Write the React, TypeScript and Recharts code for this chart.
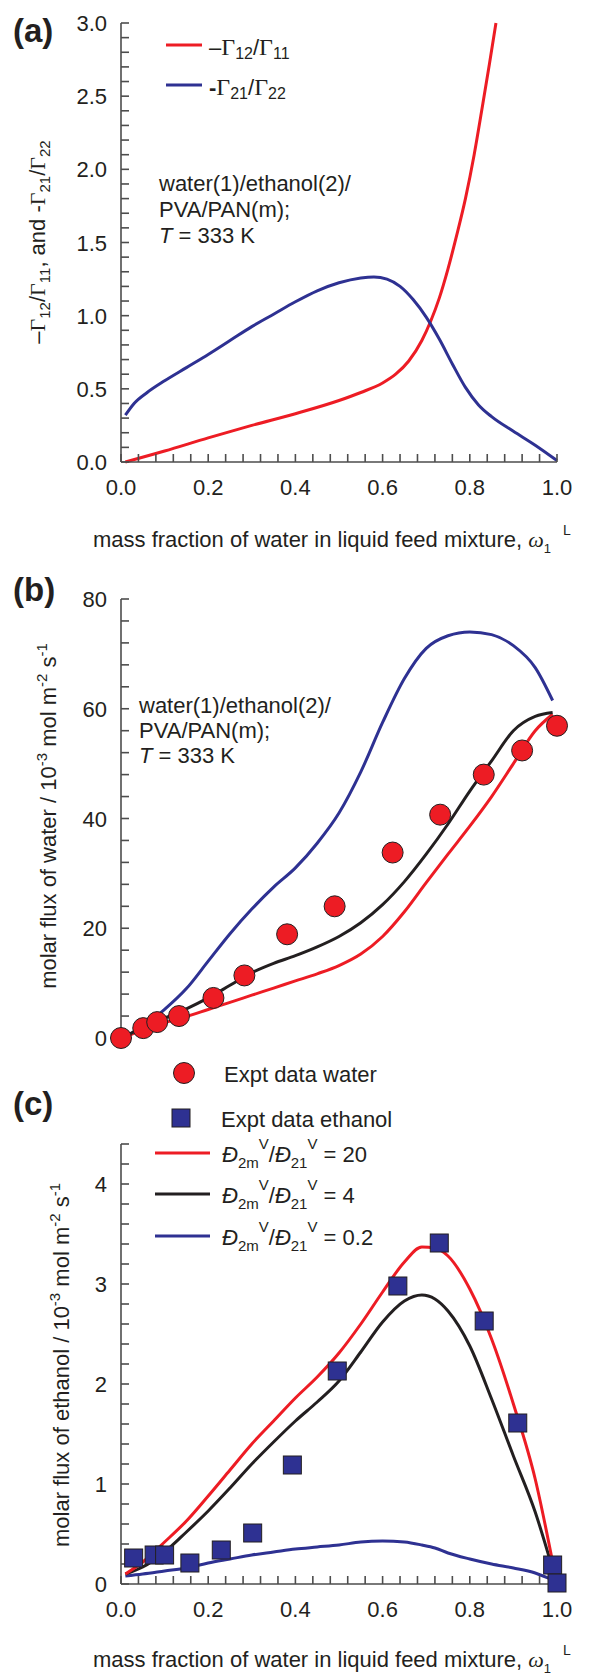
import React from "react";
import { ComposedChart, Line, Scatter, XAxis, YAxis } from "recharts";

const SANS = '"Liberation Sans", Arial, Helvetica, sans-serif';
const SERIF = '"Liberation Serif", "Times New Roman", serif';
const RED = "#ed1c24";
const BLUE = "#2e3192";
const BLACK = "#231f20";
const AXIS = "#4d4d4d";

// (a) -Γ12/Γ11 and -Γ21/Γ22 vs mass fraction of water
const A_RED_X = [0.01, 0.1, 0.2, 0.3, 0.4, 0.5, 0.55, 0.6, 0.63, 0.66, 0.69, 0.71, 0.73, 0.75, 0.77, 0.79, 0.81, 0.83, 0.845, 0.86];
const A_RED_Y = [0, 0.075, 0.165, 0.25, 0.33, 0.42, 0.475, 0.54, 0.6, 0.69, 0.83, 0.96, 1.12, 1.32, 1.55, 1.8, 2.1, 2.45, 2.72, 3.0];
const A_BLUE_X = [0.01, 0.03, 0.06, 0.1, 0.15, 0.2, 0.25, 0.3, 0.35, 0.4, 0.45, 0.5, 0.55, 0.58, 0.61, 0.64, 0.67, 0.7, 0.73, 0.76, 0.79, 0.82, 0.85, 0.9, 0.95, 1.0];
const A_BLUE_Y = [0.32, 0.4, 0.475, 0.555, 0.645, 0.735, 0.83, 0.925, 1.01, 1.095, 1.17, 1.225, 1.258, 1.265, 1.25, 1.2, 1.11, 0.99, 0.84, 0.67, 0.51, 0.39, 0.31, 0.21, 0.115, 0.01];

// (b) water flux, model curves + experiments
const B_X = [0.01, 0.05, 0.1, 0.15, 0.2, 0.25, 0.3, 0.35, 0.4, 0.45, 0.5, 0.55, 0.6, 0.65, 0.7, 0.75, 0.8, 0.85, 0.9, 0.95, 0.99];
const B_RED = [0.2, 1.5, 2.8, 3.9, 5.2, 6.5, 7.8, 9.1, 10.4, 11.7, 13.2, 15.3, 18.5, 23, 28.3, 33.5, 38.6, 44, 50, 56, 59];
const B_BLACK = [0.3, 2, 3.6, 5.3, 7.3, 9.6, 11.9, 13.6, 15, 16.6, 18.5, 21, 24.3, 28.5, 33.5, 39, 45, 50.5, 56, 58.6, 59.3];
const B_BLUE = [0.3, 2, 5.2, 9, 14, 19, 23.5, 27.5, 31, 35.5, 41, 48.5, 57.5, 65.5, 71, 73.3, 74, 73.5, 71.5, 67.5, 61.5];
const WATER_X = [0, 0.051, 0.083, 0.133, 0.212, 0.283, 0.381, 0.49, 0.623, 0.732, 0.832, 0.92, 1.0];
const WATER_Y = [0, 1.8, 2.9, 4.0, 7.3, 11.4, 18.9, 24.0, 33.8, 40.7, 48.0, 52.4, 56.9];

// (c) ethanol flux
const C_X = [0.01, 0.05, 0.1, 0.15, 0.2, 0.25, 0.3, 0.35, 0.4, 0.45, 0.5, 0.55, 0.6, 0.65, 0.69, 0.72, 0.75, 0.8, 0.85, 0.9, 0.95, 0.99];
const C_RED = [0.1, 0.22, 0.42, 0.63, 0.88, 1.14, 1.4, 1.63, 1.86, 2.07, 2.31, 2.6, 2.92, 3.22, 3.37, 3.36, 3.28, 2.95, 2.45, 1.8, 1.05, 0.22];
const C_BLACK = [0.1, 0.17, 0.32, 0.52, 0.73, 0.96, 1.2, 1.42, 1.63, 1.82, 2.03, 2.32, 2.62, 2.83, 2.89, 2.85, 2.73, 2.38, 1.85, 1.28, 0.72, 0.15];
const C_BLUE = [0.08, 0.1, 0.13, 0.16, 0.21, 0.25, 0.29, 0.32, 0.35, 0.37, 0.39, 0.42, 0.43, 0.42, 0.39, 0.36, 0.31, 0.25, 0.2, 0.16, 0.11, 0.04];
const ETOH_X = [0.029, 0.076, 0.1, 0.158, 0.23, 0.302, 0.393, 0.496, 0.635, 0.73, 0.833, 0.91, 0.99, 1.0];
const ETOH_Y = [0.26, 0.29, 0.29, 0.21, 0.34, 0.51, 1.19, 2.13, 2.98, 3.41, 2.63, 1.61, 0.19, 0.01];

const pts = (xs: number[], ys: number[]) => xs.map((x, i) => ({ x, y: ys[i] }));
const steps = (step: number, max: number) =>
  Array.from({ length: Math.round(max / step) + 1 }, (_, i) => +(i * step).toFixed(4));

const X_TICKS = steps(0.04, 1);
const A_TICKS = steps(0.1, 3);
const B_TICKS = steps(4, 80);
const C_TICKS = steps(0.2, 4.4);
const xFmt = (v: number) => (Math.abs(v * 5 - Math.round(v * 5)) < 1e-6 ? v.toFixed(1) : "");

// plot frame shared by the three panels (page pixels)
const PLOT_L = 121;
const PLOT_R = 557;
const FRAME_A = { top: 23, bottom: 462 };
const FRAME_B = { top: 599, bottom: 1038 };
const FRAME_C = { top: 1144, bottom: 1584 };

type TSeg = { t: string; shift?: number; size?: number; serif?: boolean; italic?: boolean; bold?: boolean; dx?: number };

function Rich({ x, y, segs, rotate, anchor, size = 22 }: { x: number; y: number; segs: TSeg[]; rotate?: boolean; anchor?: "start" | "middle" | "end"; size?: number }) {
  let prev = 0;
  return (
    <text
      x={rotate ? 0 : x}
      y={rotate ? 0 : y}
      transform={rotate ? `translate(${x},${y}) rotate(-90)` : undefined}
      textAnchor={anchor ?? "start"}
      fontFamily={SANS}
      fontSize={size}
      fill={BLACK}
      style={{ whiteSpace: "pre" }}
    >
      {segs.map((s, i) => {
        const shift = s.shift ?? 0;
        const dy = shift - prev;
        prev = shift;
        return (
          <tspan
            key={i}
            dy={dy || undefined}
            dx={s.dx}
            fontSize={s.size}
            fontFamily={s.serif ? SERIF : undefined}
            fontStyle={s.italic ? "italic" : undefined}
            fontWeight={s.bold ? "bold" : undefined}
          >
            {s.t}
          </tspan>
        );
      })}
    </text>
  );
}

const sub = (t: string, shift = 5, size = 15): TSeg => ({ t, shift, size });
const sup = (t: string, shift = -9, size = 15): TSeg => ({ t, shift, size });
const gam: TSeg = { t: "Γ", serif: true };

const xTitle: TSeg[] = [
  { t: "mass fraction of water in liquid feed mixture, " },
  { t: "ω", serif: true, italic: true },
  sub("1", 6, 13),
  { t: "L", shift: -12, size: 14, dx: 12 },
];
const note: TSeg[][] = [[{ t: "water(1)/ethanol(2)/" }], [{ t: "PVA/PAN(m);" }], [{ t: "T", italic: true }, { t: " = 333 K" }]];
const dRatio = (val: string): TSeg[] => [
  { t: "Đ", italic: true },
  sub("2m", 6),
  sup("V", -13),
  { t: "/" },
  { t: "Đ", italic: true },
  sub("21", 6),
  sup("V", -13),
  { t: " = " + val },
];

const WaterDot = (p: any) =>
  p.cx == null ? <g /> : <circle cx={p.cx} cy={p.cy} r={10.5} fill={RED} stroke={BLACK} strokeWidth={1} />;
const EtohSquare = (p: any) =>
  p.cx == null ? <g /> : <rect x={p.cx - 9} y={p.cy - 9} width={18} height={18} fill={BLUE} stroke={BLACK} strokeWidth={1} />;

const yTick = (fmt: (v: number) => string) => (p: any) => (
  <text x={p.x} y={p.y} dy={8} textAnchor="end" fontFamily={SANS} fontSize={22} fill={BLACK}>
    {fmt(p.payload.value)}
  </text>
);
const xTick = (p: any) => (
  <text x={p.x} y={p.y + 16} textAnchor="middle" fontFamily={SANS} fontSize={22} fill={BLACK}>
    {xFmt(p.payload.value)}
  </text>
);

const MARGIN = (top: number, bottom: number) => ({ top, right: 590 - PLOT_R, bottom, left: PLOT_L - 60 });

// library axes: inward ticks via negative tickSize, label pushed back out by tickMargin
function yAxis(domain: [number, number], ticks: number[], fmt: (v: number) => string) {
  return (
    <YAxis
      type="number"
      domain={domain}
      ticks={ticks}
      interval={0}
      width={60}
      tick={yTick(fmt)}
      tickSize={-8}
      tickMargin={22}
      stroke={AXIS}
      axisLine={{ stroke: AXIS, strokeWidth: 1.6 }}
      tickLine={{ stroke: AXIS, strokeWidth: 1.6 }}
    />
  );
}

function xAxis() {
  return (
    <XAxis
      type="number"
      dataKey="x"
      domain={[0, 1]}
      ticks={X_TICKS}
      interval={0}
      height={40}
      tick={xTick}
      tickSize={-8}
      tickMargin={25}
      stroke={AXIS}
      axisLine={{ stroke: AXIS, strokeWidth: 1.6 }}
      tickLine={{ stroke: AXIS, strokeWidth: 1.6 }}
    />
  );
}

export default function App() {
  return (
    <div style={{ position: "absolute", left: 0, top: 0, width: 590, height: 1675, background: "#fff" }}>
      <div style={{ position: "absolute", left: 0, top: 0 }}>
        <ComposedChart width={590} height={520} margin={MARGIN(FRAME_A.top, 520 - FRAME_A.bottom - 40)}>
          {xAxis()}
          {yAxis([0, 3], A_TICKS, (v) => (Math.abs(v * 2 - Math.round(v * 2)) < 1e-6 ? v.toFixed(1) : ""))}
          <Line data={pts(A_RED_X, A_RED_Y)} dataKey="y" type="monotone" stroke={RED} strokeWidth={3} dot={false} isAnimationActive={false} />
          <Line data={pts(A_BLUE_X, A_BLUE_Y)} dataKey="y" type="monotone" stroke={BLUE} strokeWidth={3} dot={false} isAnimationActive={false} />
        </ComposedChart>
      </div>

      <div style={{ position: "absolute", left: 0, top: 560 }}>
        <ComposedChart width={590} height={500} margin={MARGIN(FRAME_B.top - 560, 500 - (FRAME_B.bottom - 560))}>
          <XAxis type="number" dataKey="x" domain={[0, 1]} hide />
          {yAxis([0, 80], B_TICKS, (v) => (v % 20 === 0 ? String(v) : ""))}
          <Line data={pts(B_X, B_BLUE)} dataKey="y" type="monotone" stroke={BLUE} strokeWidth={3} dot={false} isAnimationActive={false} />
          <Line data={pts(B_X, B_RED)} dataKey="y" type="monotone" stroke={RED} strokeWidth={3} dot={false} isAnimationActive={false} />
          <Line data={pts(B_X, B_BLACK)} dataKey="y" type="monotone" stroke={BLACK} strokeWidth={3} dot={false} isAnimationActive={false} />
          <Scatter data={pts(WATER_X, WATER_Y)} dataKey="y" shape={WaterDot} isAnimationActive={false} />
        </ComposedChart>
      </div>

      <div style={{ position: "absolute", left: 0, top: 1120 }}>
        <ComposedChart width={590} height={555} margin={MARGIN(FRAME_C.top - 1120, 555 - (FRAME_C.bottom - 1120) - 40)}>
          {xAxis()}
          {yAxis([0, 4.4], C_TICKS, (v) => (Math.abs(v - Math.round(v)) < 1e-6 ? String(Math.round(v)) : ""))}
          <Scatter data={pts(ETOH_X, ETOH_Y)} dataKey="y" shape={EtohSquare} isAnimationActive={false} />
          <Line data={pts(C_X, C_BLUE)} dataKey="y" type="monotone" stroke={BLUE} strokeWidth={3} dot={false} isAnimationActive={false} />
          <Line data={pts(C_X, C_BLACK)} dataKey="y" type="monotone" stroke={BLACK} strokeWidth={3} dot={false} isAnimationActive={false} />
          <Line data={pts(C_X, C_RED)} dataKey="y" type="monotone" stroke={RED} strokeWidth={3} dot={false} isAnimationActive={false} />
        </ComposedChart>
      </div>

      <svg width={590} height={1675} style={{ position: "absolute", left: 0, top: 0, pointerEvents: "none" }}>
        {/* panel letters */}
        <Rich x={13} y={42} size={33} segs={[{ t: "(a)", bold: true }]} />
        <Rich x={13} y={601} size={33} segs={[{ t: "(b)", bold: true }]} />
        <Rich x={13} y={1115} size={33} segs={[{ t: "(c)", bold: true }]} />

        {/* (a) legend */}
        <line x1={166} x2={202} y1={45} y2={45} stroke={RED} strokeWidth={3} />
        <Rich x={209} y={55} segs={[{ t: "–" }, { ...gam, size: 24 }, sub("12", 4, 16), { t: "/" }, { ...gam, size: 24 }, sub("11", 4, 16)]} />
        <line x1={166} x2={202} y1={85} y2={85} stroke={BLUE} strokeWidth={3} />
        <Rich x={209} y={95} segs={[{ t: "-", bold: true }, { ...gam, size: 24 }, sub("21", 4, 16), { t: "/" }, { ...gam, size: 24 }, sub("22", 4, 16)]} />

        {note.map((segs, i) => (
          <Rich key={"na" + i} x={159} y={191 + i * 26} segs={segs} />
        ))}
        <Rich x={45} y={242} rotate anchor="middle" segs={[{ t: "–" }, gam, sub("12"), { t: "/" }, gam, sub("11"), { t: ", and -" }, gam, sub("21"), { t: "/" }, gam, sub("22")]} />
        <Rich x={93} y={547} segs={xTitle} />

        {/* (b) */}
        {note.map((segs, i) => (
          <Rich key={"nb" + i} x={139} y={713 + i * 25} segs={segs} />
        ))}
        <Rich x={56} y={816} rotate anchor="middle" segs={[{ t: "molar flux of water / 10" }, sup("-3"), { t: " mol m" }, sup("-2"), { t: " s" }, sup("-1")]} />
        <circle cx={184} cy={1073} r={10.5} fill={RED} stroke={BLACK} strokeWidth={1} />
        <Rich x={224} y={1082} segs={[{ t: "Expt data water" }]} />

        {/* (c) legend */}
        <rect x={172} y={1109} width={18} height={18} fill={BLUE} stroke={BLACK} strokeWidth={1} />
        <Rich x={221} y={1127} segs={[{ t: "Expt data ethanol" }]} />
        <line x1={155} x2={210} y1={1153} y2={1153} stroke={RED} strokeWidth={3} />
        <Rich x={222} y={1162} segs={dRatio("20")} />
        <line x1={155} x2={210} y1={1194} y2={1194} stroke={BLACK} strokeWidth={3} />
        <Rich x={222} y={1203} segs={dRatio("4")} />
        <line x1={155} x2={210} y1={1236} y2={1236} stroke={BLUE} strokeWidth={3} />
        <Rich x={222} y={1245} segs={dRatio("0.2")} />

        <Rich x={69} y={1365} rotate anchor="middle" segs={[{ t: "molar flux of ethanol / 10" }, sup("-3"), { t: " mol m" }, sup("-2"), { t: " s" }, sup("-1")]} />
        <Rich x={93} y={1667} segs={xTitle} />
      </svg>
    </div>
  );
}
